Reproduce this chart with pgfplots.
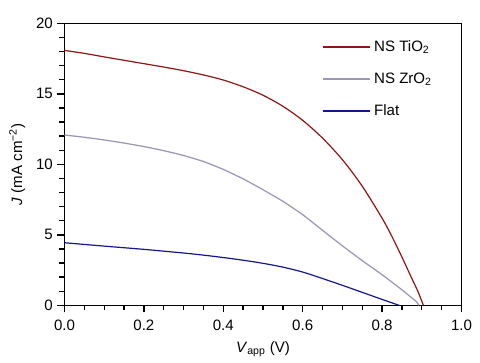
\documentclass[border=0pt]{standalone}
\usepackage{fontspec}
\setmainfont{Liberation Sans}
\usepackage{pgfplots}
\pgfplotsset{compat=1.18}
\definecolor{cTi}{RGB}{140,22,22}
\definecolor{cZr}{RGB}{156,153,182}
\definecolor{cFl}{RGB}{22,22,140}
\begin{document}
\begin{tikzpicture}
\begin{axis}[
  scale only axis,
  width=297.75pt, height=211.5pt,
  at={(0,0)}, anchor=south west,
  xmin=0, xmax=1, ymin=0, ymax=20,
  xtick={0,0.2,...,1.0}, ytick={0,5,10,15,20},
  minor xtick={0.05,0.1,...,0.95},
  minor ytick={1,2,3,4,6,7,8,9,11,12,13,14,16,17,18,19},
  tick pos=left, tick align=outside,
  major tick length=5.25pt, minor tick length=3.75pt,
  every tick/.style={black, line width=1pt},
  axis line style={line width=1.1pt},
  font=\fontsize{11.3}{13.5}\selectfont,
  /pgf/number format/assume math mode=true,
  xticklabel style={/pgf/number format/fixed, /pgf/number format/precision=1, /pgf/number format/fixed zerofill, yshift=-2.2pt},
  yticklabel style={/pgf/number format/fixed},
  xlabel={\textit{V}\textsubscript{app} (V)},
  ylabel={\textit{J} (mA cm\textsuperscript{−2})},
  xlabel style={at={(axis description cs:0.5,-0.1656)}, anchor=base},
  ylabel style={at={(axis description cs:-0.107,0.5)}, anchor=base},
  legend cell align=left,
  legend image code/.code={\draw[#1] (0pt,0pt) -- (35.8pt,0pt);},
  legend style={draw=none, fill=none, at={(axis description cs:0.648,0.94)}, anchor=north west,
    inner sep=0pt, row sep=14.5pt, nodes={inner xsep=2.35pt, inner ysep=0pt}},
]
\addplot[cTi, line width=0.9pt, smooth, tension=0.5] coordinates {
(0,18.08) (0.05,17.87) (0.1,17.62) (0.15,17.38) (0.2,17.14) (0.25,16.9) (0.3,16.64) (0.35,16.34) (0.4,15.98) (0.45,15.5) (0.5,14.9) (0.55,14.12) (0.6,13.12) (0.65,11.86) (0.7,10.33) (0.75,8.45) (0.8,6.18) (0.825,4.87) (0.85,3.42) (0.875,1.9) (0.89,1.0) (0.904,0)
};
\addlegendentry{NS TiO\textsubscript{2}}
\addplot[cZr, line width=0.95pt, smooth, tension=0.3] coordinates {
(0,12.08) (0.05,11.92) (0.1,11.73) (0.15,11.51) (0.2,11.26) (0.25,10.97) (0.3,10.63) (0.35,10.2) (0.4,9.64) (0.45,8.97) (0.5,8.2) (0.55,7.38) (0.6,6.43) (0.65,5.32) (0.7,4.22) (0.75,3.17) (0.8,2.17) (0.85,1.1) (0.875,0.52) (0.885,0.3) (0.893,0)
};
\addlegendentry{NS ZrO\textsubscript{2}}
\addplot[cFl, line width=0.9pt, smooth, tension=0.5] coordinates {
(0,4.44) (0.1,4.2) (0.2,3.97) (0.3,3.71) (0.35,3.56) (0.4,3.39) (0.45,3.2) (0.5,2.98) (0.55,2.71) (0.6,2.36) (0.65,1.9) (0.7,1.42) (0.75,0.92) (0.8,0.42) (0.843,0)
};
\addlegendentry{Flat}
\end{axis}
\pgfresetboundingbox
\path (-48.375pt,-42.5pt) rectangle (311.625pt,229pt);
\end{tikzpicture}
\end{document}
